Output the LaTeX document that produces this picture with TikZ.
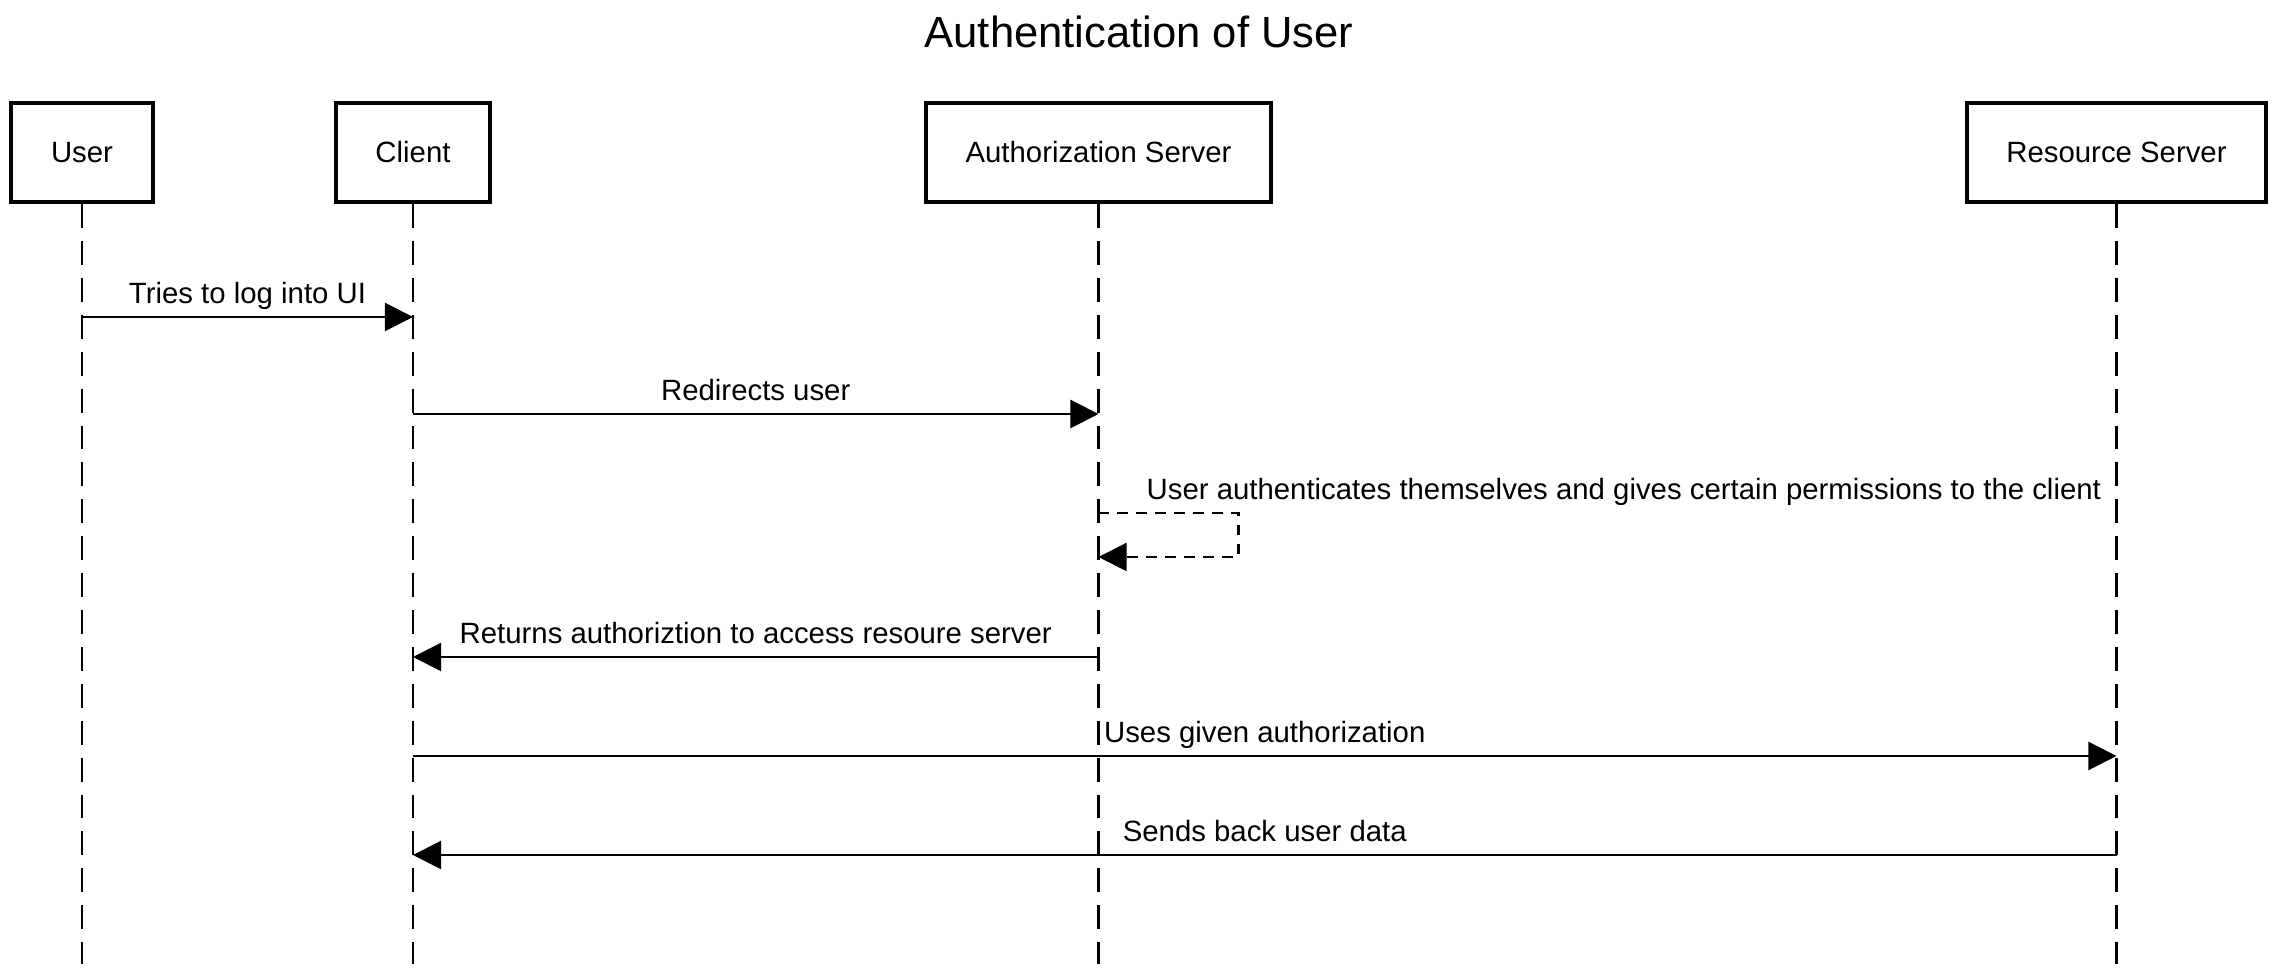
\documentclass[tikz,border=0pt]{standalone}
\usepackage{fontspec}
\setmainfont{Liberation Sans}
\usetikzlibrary{arrows.meta,positioning,calc}

\begin{document}
\begin{tikzpicture}[font=\fontsize{8.35}{10}\selectfont,
  actor/.style={draw, line width=1.2pt, minimum height=0.99cm, inner xsep=11.3pt, fill=white},
  lifeline/.style={line width=0.6pt, dash pattern=on 6.8pt off 3.7pt},
  msg/.style={line width=0.6pt, -{Triangle[length=8pt,width=8pt]}},
  selfmsg/.style={msg, dash pattern=on 3pt off 2.4pt},
  lbl/.style={above=3.5pt, inner sep=0pt, text depth=0pt}]
\useasboundingbox (0,0) rectangle (22.8,-9.74);

% Titel
\node[font=\fontsize{12.4}{14}\selectfont] (title) at (11.39,-0.32) {Authentication of User};

% Teilnehmer
\node[actor] (user) at (0.82,-1.525) {User};
\node[actor] (client) at (4.13,-1.525) {Client};
\node[actor] (auth) at (10.985,-1.525) {Authorization Server};
\node[actor] (res) at (21.165,-1.525) {Resource Server};

% Lebenslinien
\foreach \p in {user,client,auth,res} {
    \draw[lifeline] (\p.south) -- (\p.south |- 0,-9.64);
}

% 1: User -> Client
\draw[msg] (user.south |- 0,-3.17) -- (client.south |- 0,-3.17)
    node[lbl, midway] {Tries to log into UI};

% 2: Client -> Authorization Server
\draw[msg] (client.south |- 0,-4.14) -- (auth.south |- 0,-4.14)
    node[lbl, midway] {Redirects user};

% 3: Selbstnachricht
\draw[selfmsg] (auth.south |- 0,-5.13) -- ++(1.4,0) -- ++(0,-0.44) -- (auth.south |- 0,-5.57);
\node[anchor=base west, inner sep=0pt] (selflbl) at (11.46,-5.00)
    {User authenticates themselves and gives certain permissions to the client};

% 4: Authorization Server -> Client
\draw[msg] (auth.south |- 0,-6.57) -- (client.south |- 0,-6.57)
    node[lbl, midway] {Returns authoriztion to access resoure server};

% 5: Client -> Resource Server
\draw[msg] (client.south |- 0,-7.56) -- (res.south |- 0,-7.56)
    node[lbl, midway] {Uses given authorization};

% 6: Resource Server -> Client
\draw[msg] (res.south |- 0,-8.55) -- (client.south |- 0,-8.55)
    node[lbl, midway] {Sends back user data};

\end{tikzpicture}
\end{document}
